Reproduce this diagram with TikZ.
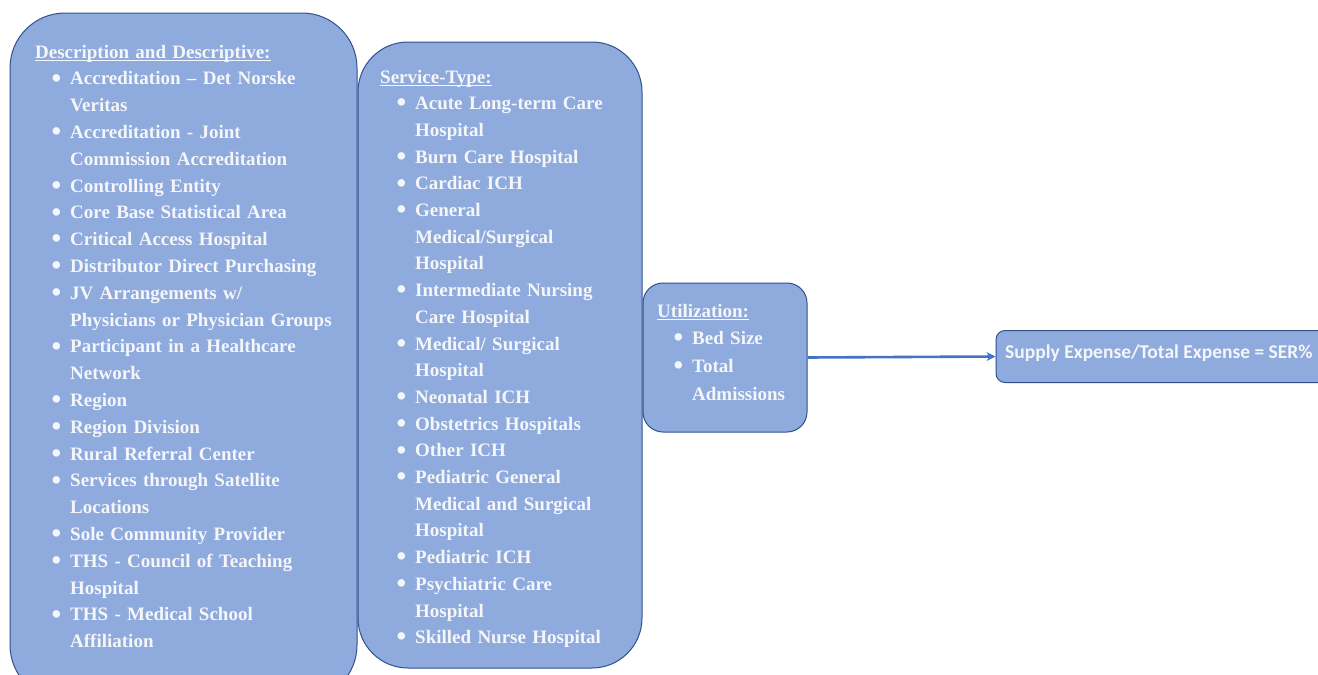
\documentclass[tikz,border=0pt]{standalone}
\usepackage{fontspec}
\setmainfont{Liberation Serif}
\newfontfamily\calfont{Carlito}
\usetikzlibrary{arrows.meta}
\definecolor{boxfill}{HTML}{8FAADC}
\definecolor{boxline}{HTML}{2F528F}
\definecolor{arrowc}{HTML}{4472C4}
\definecolor{txt}{HTML}{F4F6FA}
\newcommand\bul{\hspace*{16.5pt}\makebox[18.5pt][l]{\raisebox{-2.2pt}{\scalebox{1.45}{\textbullet}}}}
\newcommand\cnt{\hspace*{35pt}}
\newcommand\ulh[1]{\setbox0\hbox{#1}\rlap{\rule[-3pt]{\wd0}{1.2pt}}\box0}
\begin{document}
\begin{tikzpicture}[x=1pt,y=-1pt,
  panel/.style={draw=boxline, fill=boxfill, line width=1pt, inner sep=0pt},
  listtext/.style={anchor=base west, inner sep=0pt, text=txt, align=left, text width=#1,
    font=\fontsize{19}{26.8}\selectfont\bfseries}]
\useasboundingbox (0,0) rectangle (1318,675);
\fill[white] (0,0) rectangle (1318,675);
\begin{scope}
\clip (0,0) rectangle (1318,675);
\node[panel, rounded corners=55pt, minimum width=347pt, minimum height=687pt] (desc) at (183.5,356.5) {};
\node[panel, rounded corners=50pt, minimum width=284pt, minimum height=626pt] (serv) at (500,355) {};
\node[panel, rounded corners=20pt, minimum width=164pt, minimum height=149pt] (util) at (725,357.5) {};
\node[panel, rounded corners=9pt, minimum width=334pt, minimum height=52pt] (ser) at (1163,356.5) {};

\node[listtext=320pt] (desctext) at (35,58) {\ulh{Description and Descriptive:}\\
\bul Accreditation – Det Norske\\
\cnt Veritas\\
\bul Accreditation - Joint\\
\cnt Commission Accreditation\\
\bul Controlling Entity\\
\bul Core Base Statistical Area\\
\bul Critical Access Hospital\\
\bul Distributor Direct Purchasing\\
\bul JV Arrangements w/\\
\cnt Physicians or Physician Groups\\
\bul Participant in a Healthcare\\
\cnt Network\\
\bul Region\\
\bul Region Division\\
\bul Rural Referral Center\\
\bul Services through Satellite\\
\cnt Locations\\
\bul Sole Community Provider\\
\bul THS - Council of Teaching\\
\cnt Hospital\\
\bul THS - Medical School\\
\cnt Affiliation};

\node[listtext=258pt, font=\fontsize{19}{26.7}\selectfont\bfseries] (servtext) at (380,83) {\ulh{Service-Type:}\\
\bul Acute Long-term Care\\
\cnt Hospital\\
\bul Burn Care Hospital\\
\bul Cardiac ICH\\
\bul General\\
\cnt Medical/Surgical\\
\cnt Hospital\\
\bul Intermediate Nursing\\
\cnt Care Hospital\\
\bul Medical/ Surgical\\
\cnt Hospital\\
\bul Neonatal ICH\\
\bul Obstetrics Hospitals\\
\bul Other ICH\\
\bul Pediatric General\\
\cnt Medical and Surgical\\
\cnt Hospital\\
\bul Pediatric ICH\\
\bul Psychiatric Care\\
\cnt Hospital\\
\bul Skilled Nurse Hospital};

\node[listtext=145pt, font=\fontsize{19}{27.7}\selectfont\bfseries] (utiltext) at (657,317) {\ulh{Utilization:}\\
\bul Bed Size\\
\bul Total\\
\cnt Admissions};

\node[anchor=base west, inner sep=0pt, text=txt, font=\calfont\fontsize{19.5}{22}\selectfont\bfseries] (sertext) at (1005,358) {Supply Expense/Total Expense = SER\%};

\draw[arrowc, line width=2.6pt, -{Stealth[length=9pt,width=9pt]}] (util.east) -- (ser.west);
\end{scope}
\end{tikzpicture}
\end{document}
